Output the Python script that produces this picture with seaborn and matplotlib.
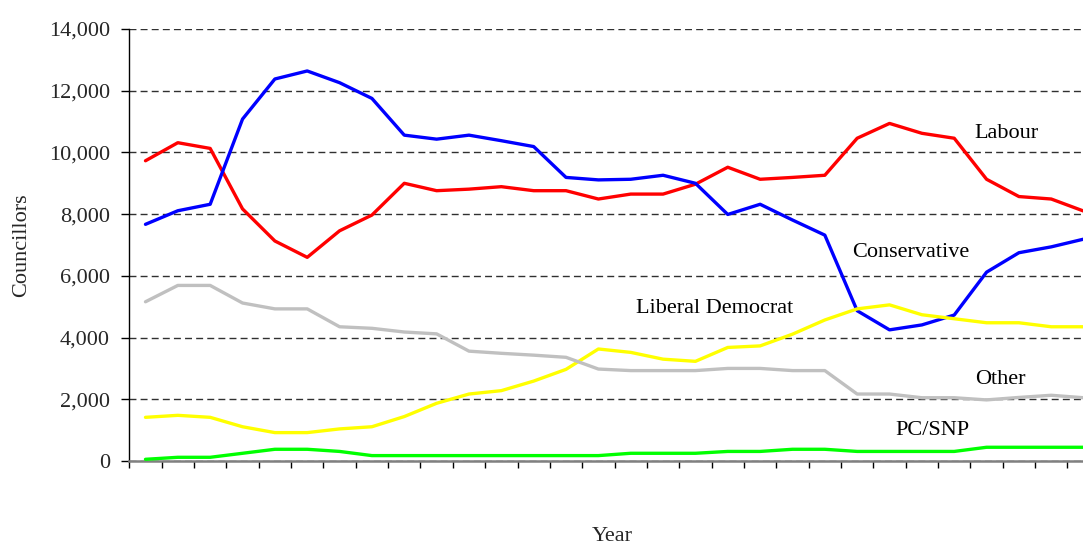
import matplotlib
matplotlib.use("Agg")
import matplotlib.pyplot as plt
import numpy as np
import pandas as pd
import seaborn as sns
from matplotlib.ticker import FuncFormatter

# councillors by party, one value per year (30 years)
years = list(range(1973, 2003))
labour = [9730, 10315, 10130, 8170, 7130, 6600, 7460, 7970, 9000, 8760,
          8810, 8890, 8760, 8760, 8490, 8650, 8650, 8970, 9520, 9130,
          9190, 9260, 10460, 10940, 10620, 10460, 9130, 8570, 8490, 8100]
conservative = [7670, 8110, 8320, 11080, 12380, 12640, 12260, 11750, 10560, 10430,
                10560, 10380, 10190, 9190, 9110, 9130, 9260, 9000, 7990, 8320,
                7810, 7320, 4870, 4250, 4410, 4730, 6120, 6750, 6940, 7190]
lib_dem = [1415, 1480, 1415, 1110, 920, 920, 1040, 1110, 1440, 1870,
           2170, 2280, 2590, 2970, 3630, 3520, 3300, 3230, 3680, 3730,
           4110, 4570, 4930, 5060, 4740, 4610, 4480, 4480, 4350, 4350]
other = [5160, 5690, 5690, 5120, 4930, 4930, 4350, 4300, 4180, 4120,
         3560, 3490, 3430, 3360, 2980, 2930, 2930, 2930, 3000, 3000,
         2930, 2930, 2170, 2170, 2050, 2050, 1980, 2060, 2130, 2050]
pc_snp = [55, 120, 120, 250, 380, 380, 310, 175, 175, 175,
          175, 175, 175, 175, 175, 250, 250, 250, 310, 310,
          380, 380, 310, 310, 310, 310, 445, 445, 445, 445]

parties = ["Labour", "Conservative", "Liberal Democrat", "Other", "PC/SNP"]
colors = {"Labour": "#FF0000", "Conservative": "#0000FF",
          "Liberal Democrat": "#FFFF00", "Other": "#C0C0C0", "PC/SNP": "#00FF00"}

df = pd.DataFrame({"Year": years, "Labour": labour, "Conservative": conservative,
                   "Liberal Democrat": lib_dem, "Other": other, "PC/SNP": pc_snp})
long_df = df.melt(id_vars="Year", var_name="Party", value_name="Councillors")

sns.set_style("white")
plt.rcParams["font.family"] = ["Liberation Serif", "DejaVu Serif"]

W, H = 1083, 547
fig = plt.figure(figsize=(W / 100, H / 100), dpi=100)
step = 32.35
ax = fig.add_axes([129.3 / W, 86 / H, 30 * step / W, 432 / H])

sns.lineplot(data=long_df, x="Year", y="Councillors", hue="Party", hue_order=parties,
             palette=colors, linewidth=2.4, legend=False, ax=ax, zorder=3)

ax.set_xlim(years[0] - 0.5, years[-1] + 0.5)
ax.set_ylim(0, 14000)
ax.set_yticks(np.arange(0, 14001, 2000))
ax.yaxis.set_major_formatter(FuncFormatter(lambda v, p: f"{int(v):,}"))
ax.set_xticks(np.arange(years[0] - 0.5, years[-1] + 1.5, 1))
ax.set_xticklabels([])
ax.set_xlabel("")
ax.set_ylabel("")

ax.yaxis.grid(True, color="#303030", linestyle=(0, (5, 3)), linewidth=1)
ax.set_axisbelow(True)
for s in ["top", "right"]:
    ax.spines[s].set_visible(False)
ax.spines["left"].set_color("black")
ax.spines["left"].set_linewidth(1)
ax.spines["bottom"].set_color("#808080")
ax.spines["bottom"].set_linewidth(1.8)
ax.tick_params(axis="y", which="major", direction="out", length=6, width=1,
               color="black", pad=8, labelsize=16, left=True)
ax.tick_params(axis="x", which="major", direction="out", length=5, width=1,
               color="black", bottom=True)

# series labels
labels = [("Labour", 1999.6, 10470), ("Conservative", 1996.66, 6610),
          ("Liberal Democrat", 1990.6, 4810), ("Other", 1999.44, 2500),
          ("PC/SNP", 1997.33, 830)]
for txt, xv, yv in labels:
    ax.text(xv, yv, txt, ha="center", va="baseline", fontsize=16, color="black")

fig.text(22 / W, 1 - 245 / H, "Councillors", rotation=90, ha="center", va="center", fontsize=16)
fig.text(612 / W, 1 - 541 / H, "Year", ha="center", va="baseline", fontsize=16)

fig.savefig("out.png", dpi=100)
